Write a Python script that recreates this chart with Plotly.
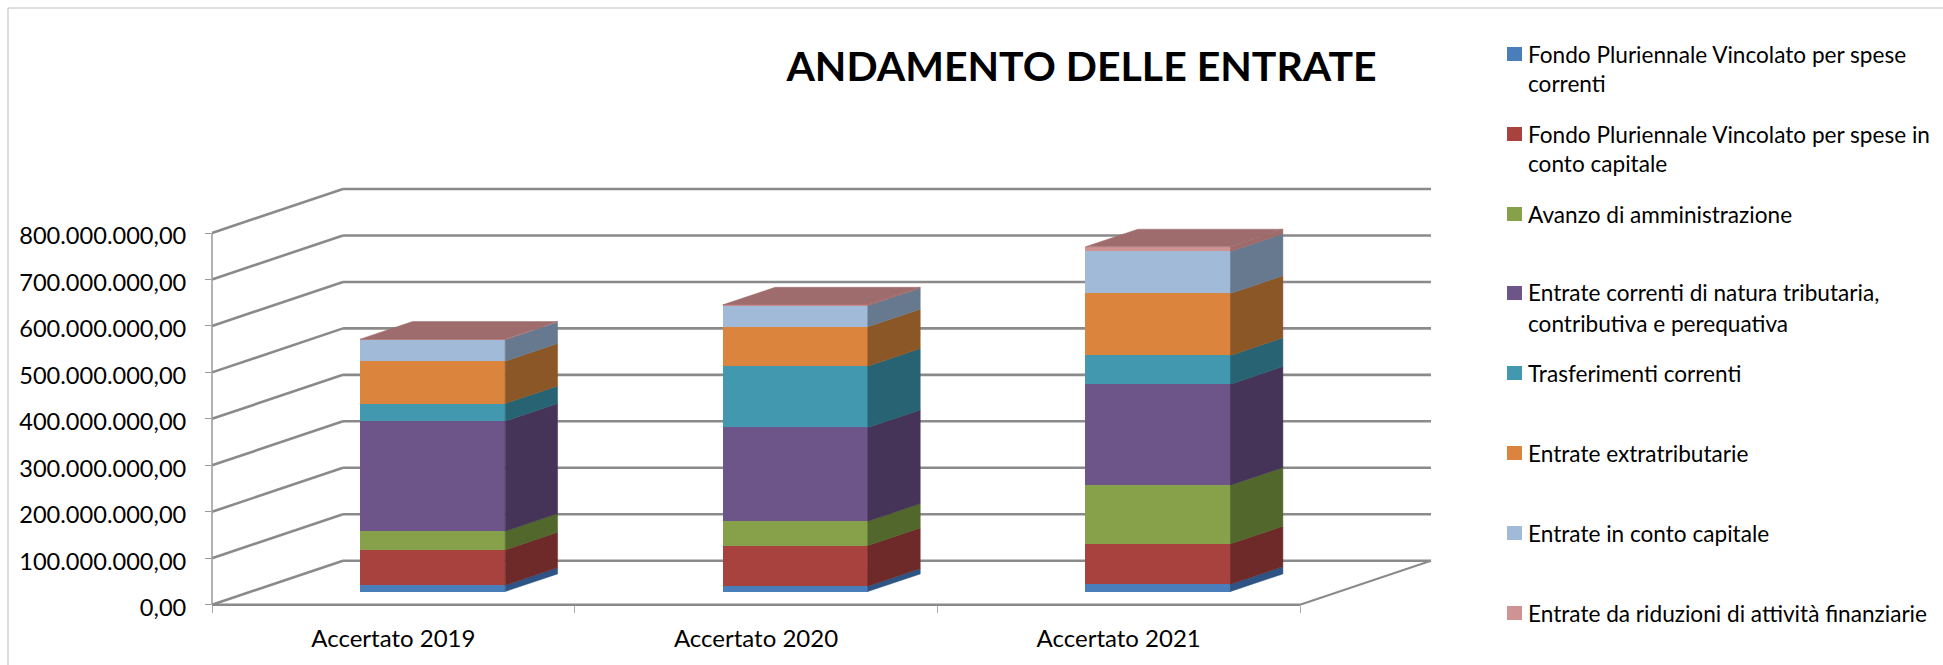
import plotly.graph_objects as go

# ---------- data ----------
categories = ["Accertato 2019", "Accertato 2020", "Accertato 2021"]
fpv_correnti = [13.6e6, 11.5e6, 15.8e6]
fpv_capitale = [76.0e6, 87.5e6, 86.8e6]
avanzo = [40.2e6, 52.4e6, 126.3e6]
tributarie = [236.8e6, 201.6e6, 217.4e6]
trasferimenti = [38.0e6, 132.0e6, 61.7e6]
extratributarie = [91.1e6, 84.7e6, 133.5e6]
conto_capitale = [45.9e6, 45.2e6, 90.4e6]
riduzioni = [1.5e6, 2.0e6, 10.0e6]

series_names = [
    "Fondo Pluriennale Vincolato per spese<br>correnti",
    "Fondo Pluriennale Vincolato per spese in<br>conto capitale",
    "Avanzo di amministrazione",
    "Entrate correnti di natura tributaria,<br>contributiva e perequativa",
    "Trasferimenti correnti",
    "Entrate extratributarie",
    "Entrate in conto capitale",
    "Entrate da riduzioni di attività finanziarie",
]
series_values = [fpv_correnti, fpv_capitale, avanzo, tributarie,
                 trasferimenti, extratributarie, conto_capitale, riduzioni]
front_colors = ["#4A7EBB", "#A8423F", "#86A14A", "#6D5489",
                "#4198AF", "#DB843D", "#A0BAD8", "#D09394"]
side_colors = ["#2D5484", "#6E2A28", "#51672C", "#453457",
               "#276373", "#8B5727", "#66798E", "#9E6B6B"]
top_color = "#9E6C6C"

y_ticks = [i * 100_000_000 for i in range(9)]
y_ticktext = ["0,00", "100.000.000,00", "200.000.000,00", "300.000.000,00",
              "400.000.000,00", "500.000.000,00", "600.000.000,00",
              "700.000.000,00", "800.000.000,00"]

# ---------- geometry ----------
W, H = 1943, 665
FONT = "Lato"
X0, X3 = 212.0, 1300.0      # front floor edge, px
Y0, Y800 = 604.7, 233.0     # front wall 0 and 800M, px
DX, DY = 131.0, 44.0        # depth shift of the back wall, px
PX_PER_CAT = (X3 - X0) / 3
PX_PER_VAL = (Y0 - Y800) / 800e6
DCAT = DX / PX_PER_CAT      # depth shift in x-axis units
DVAL = DY / PX_PER_VAL      # depth shift in y-axis units
BAR_L, BAR_R = 0.3, 0.7     # bar extent within its category slot
D_F, D_B = 0.3, 0.7         # bar extent in depth

fig = go.Figure()


def proj(x, y, d):
    return x + d * DCAT, y + d * DVAL


# front faces: real bars
cum = [0.0, 0.0, 0.0]
levels = []
for name, vals, col in zip(series_names, series_values, front_colors):
    bases = [c + D_F * DVAL for c in cum]
    fig.add_trace(go.Bar(
        x=[i + (BAR_L + BAR_R) / 2 + D_F * DCAT for i in range(3)],
        y=vals, base=bases, width=BAR_R - BAR_L,
        marker=dict(color=col, line=dict(width=0)),
        name=name.replace("<br>", " "), showlegend=False,
    ))
    new = [c + v for c, v in zip(cum, vals)]
    levels.append((list(cum), new))
    cum = new

# side faces
for (low, high), col in zip(levels, side_colors):
    for i in range(3):
        xr = i + BAR_R
        pts = [proj(xr, low[i], D_F), proj(xr, low[i], D_B),
               proj(xr, high[i], D_B), proj(xr, high[i], D_F)]
        fig.add_trace(go.Scatter(
            x=[p[0] for p in pts] + [pts[0][0]],
            y=[p[1] for p in pts] + [pts[0][1]],
            mode="lines", fill="toself", fillcolor=col,
            line=dict(width=0.5, color=col), showlegend=False, hoverinfo="skip",
        ))

# top faces
for i in range(3):
    xl, xr = i + BAR_L, i + BAR_R
    pts = [proj(xl, cum[i], D_F), proj(xr, cum[i], D_F),
           proj(xr, cum[i], D_B), proj(xl, cum[i], D_B)]
    fig.add_trace(go.Scatter(
        x=[p[0] for p in pts] + [pts[0][0]],
        y=[p[1] for p in pts] + [pts[0][1]],
        mode="lines", fill="toself", fillcolor=top_color,
        line=dict(width=0.5, color=top_color), showlegend=False, hoverinfo="skip",
    ))

# ---------- frame (walls and floor) ----------
shapes = []


def line(x1, y1, x2, y2, color="#8A8A8A", width=2.6):
    shapes.append(dict(type="line", xref="paper", yref="paper", layer="below",
                       x0=x1 / W, x1=x2 / W, y0=1 - y1 / H, y1=1 - y2 / H,
                       line=dict(color=color, width=width)))


for v in y_ticks:
    yf = Y0 - v * PX_PER_VAL
    line(X0, yf, X0 + DX, yf - DY)
    line(X0 + DX, yf - DY, X3 + DX, yf - DY)
line(X0, Y0, X3, Y0)
line(X3, Y0, X3 + DX, Y0 - DY, width=2)
line(X0, Y800, X0, Y0, color="#9A9A9A", width=1.5)

# outer chart border
line(8, 8, W, 8, color="#BDBDBD", width=1)
line(8, 8, 8, H, color="#BDBDBD", width=1)

# ---------- legend ----------
LEG_Y = [54, 134, 214, 293, 373, 453, 533, 613]
annotations = []
for name, col, yc in zip(series_names, front_colors, LEG_Y):
    shapes.append(dict(type="rect", xref="paper", yref="paper",
                       x0=1507 / W, x1=1522 / W,
                       y0=1 - (yc - 7) / H, y1=1 - (yc + 7) / H,
                       fillcolor=col, line=dict(width=0)))
    for k, txt in enumerate(name.split("<br>")):
        annotations.append(dict(
            text=txt, xref="paper", yref="paper", showarrow=False,
            x=1528 / W, y=1 - (yc + k * 30) / H,
            xanchor="left", yanchor="middle", align="left",
            xshift=-2, font=dict(family=FONT, size=22.6, color="#000000"),
        ))

fig.update_layout(
    width=W, height=H,
    margin=dict(l=0, r=0, t=0, b=0, autoexpand=False),
    autosize=False,
    paper_bgcolor="white", plot_bgcolor="rgba(0,0,0,0)",
    barmode="overlay", bargap=0,
    showlegend=False,
    shapes=shapes, annotations=annotations,
    title=dict(text="<b>ANDAMENTO DELLE ENTRATE</b>", x=1081.5 / W, y=1 - 67 / H,
               xref="container", yref="container", xanchor="center", yanchor="middle",
               automargin=False,
               font=dict(family=FONT, size=41, color="#000000")),
    xaxis=dict(
        domain=[X0 / W, (X3 + DX) / W],
        range=[0, 3 + DCAT],
        automargin=False,
        tickmode="array",
        tickvals=[0.5, 1.5, 2.5],
        ticktext=categories,
        ticks="", showgrid=False, zeroline=False, showline=False,
        ticklabelstandoff=17,
        tickfont=dict(family=FONT, size=24, color="#000000"),
        minor=dict(tickmode="array", tickvals=[0, 1, 2, 3], ticks="outside",
                   ticklen=7, tickcolor="#AAAAAA", tickwidth=1, showgrid=False),
    ),
    yaxis=dict(
        domain=[1 - Y0 / H, 1 - (Y800 - DY) / H],
        range=[0, 800e6 + DVAL],
        automargin=False,
        tickmode="array",
        tickvals=y_ticks, ticktext=y_ticktext,
        ticks="outside", ticklen=6, tickcolor="#9A9A9A", tickwidth=1,
        showgrid=False, zeroline=False, showline=False,
        ticklabelstandoff=14, ticklabelshift=3,
        tickfont=dict(family=FONT, size=23.6, color="#000000"),
    ),
)

fig.write_html("out.html", config={"displayModeBar": False},
               post_script="document.body.style.margin='0';document.documentElement.style.overflow='hidden';")
